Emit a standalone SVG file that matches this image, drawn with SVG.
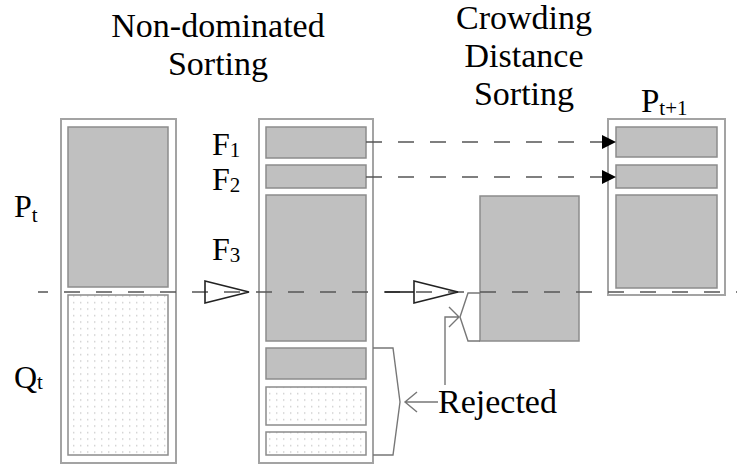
<svg xmlns="http://www.w3.org/2000/svg" width="737" height="465" viewBox="0 0 737 465">
  <defs>
    <pattern id="dots" width="7" height="6.5" patternUnits="userSpaceOnUse">
      <rect x="3" y="3" width="1.4" height="1.2" fill="#c4c4c4"/>
    </pattern>
    <marker id="solidHead" viewBox="0 0 14 14" refX="14" refY="7" markerWidth="14" markerHeight="14" markerUnits="userSpaceOnUse" orient="auto">
      <path d="M0,0 L14,7 L0,14 Z" fill="#000"/>
    </marker>
  </defs>
  <style>
    .outer { fill: #fff; stroke: #a3a3a3; stroke-width: 2; }
    .block { fill: #c0c0c0; stroke: #8c8c8c; stroke-width: 1.5; }
    .dotted { fill: url(#dots); stroke: #8c8c8c; stroke-width: 1.5; }
    .dash { fill: none; stroke: #555; stroke-width: 1.3; stroke-dasharray: 16 16; }
    .flow { fill: none; stroke: #222; stroke-width: 1.6; }
    .brace { fill: none; stroke: #777; stroke-width: 1.4; }
    .title { font-size: 34px; text-anchor: middle; }
    .big { font-size: 32px; }
    .sub { font-size: 21px; }
  </style>

  <g font-family="'Liberation Serif', 'Times New Roman', 'DejaVu Serif', serif" fill="#000">
    <!-- column headings -->
    <g id="heading-nds">
      <text class="title" x="218" y="37">Non-dominated</text>
      <text class="title" x="218" y="75">Sorting</text>
    </g>
    <g id="heading-cds">
      <text class="title" x="524" y="29">Crowding</text>
      <text class="title" x="524" y="67">Distance</text>
      <text class="title" x="524" y="105">Sorting</text>
    </g>
  </g>

  <!-- combined population R_t = P_t + Q_t -->
  <g id="population-r">
    <rect class="outer" x="61" y="119" width="115" height="344"/>
    <rect class="block" x="68" y="127" width="100" height="160"/>
    <rect class="dotted" x="68" y="295" width="100" height="160"/>
    <text class="big" font-family="'Liberation Serif', 'Times New Roman', serif" x="14" y="217">P<tspan class="sub" dy="5">t</tspan></text>
    <text class="big" font-family="'Liberation Serif', 'Times New Roman', serif" x="14" y="388">Q<tspan class="sub" dy="1">t</tspan></text>
  </g>

  <!-- fronts after non-dominated sorting -->
  <g id="fronts">
    <rect class="outer" x="259" y="119" width="114" height="344"/>
    <rect class="block" x="266" y="127" width="100" height="31"/>
    <rect class="block" x="266" y="165" width="100" height="23"/>
    <rect class="block" x="266" y="195" width="100" height="146"/>
    <rect class="block" x="266" y="348" width="100" height="31"/>
    <rect class="dotted" x="266" y="387" width="100" height="38"/>
    <rect class="dotted" x="266" y="432" width="100" height="23"/>
    <text class="big" font-family="'Liberation Serif', 'Times New Roman', serif" x="212" y="155">F<tspan class="sub" dy="2">1</tspan></text>
    <text class="big" font-family="'Liberation Serif', 'Times New Roman', serif" x="212" y="190">F<tspan class="sub" dy="2">2</tspan></text>
    <text class="big" font-family="'Liberation Serif', 'Times New Roman', serif" x="212" y="260">F<tspan class="sub" dy="2">3</tspan></text>
  </g>

  <!-- front F3 sorted by crowding distance -->
  <g id="crowding">
    <rect class="block" x="480" y="196" width="99" height="145"/>
  </g>

  <!-- next population P_t+1 -->
  <g id="population-next">
    <rect class="outer" x="608" y="119" width="117" height="176"/>
    <rect class="block" x="616" y="127" width="101" height="30"/>
    <rect class="block" x="616" y="165" width="101" height="23"/>
    <rect class="block" x="616" y="195" width="101" height="93"/>
    <text font-family="'Liberation Serif', 'Times New Roman', serif" font-size="33" x="641" y="112">P<tspan class="sub" dy="3">t+1</tspan></text>
  </g>

  <g id="rejected-label">
    <text font-family="'Liberation Serif', 'Times New Roman', serif" x="438" y="413" font-size="34">Rejected</text>
  </g>

  <!-- connectors -->
  <g id="connectors">
    <!-- population size cut line -->
    <line class="dash" x1="38" y1="292" x2="737" y2="292" stroke-dashoffset="6"/>
    <line class="flow" x1="385" y1="292" x2="414" y2="292"/>
    <polygon class="flow" points="205,281 249,292 205,303"/>
    <polygon class="flow" points="414,281 458,292 414,303"/>

    <!-- F1 and F2 copied into P_t+1 -->
    <line class="dash" x1="366" y1="142" x2="616" y2="142" marker-end="url(#solidHead)"/>
    <line class="dash" x1="366" y1="177" x2="616" y2="177" marker-end="url(#solidHead)"/>

    <!-- brace around the cut-off part of F3 -->
    <path class="brace" d="M480,293 L468,293 L460,317 L468,341 L480,341"/>
    <path class="brace" d="M445,385 L445,317 L459,317 M449,307 L459,317 L449,327"/>

    <!-- brace around rejected fronts -->
    <path class="brace" d="M373,348 L393,348 L400,402 L393,455 L373,455"/>
    <path class="brace" d="M438,402 L405,402 M417,392 L405,402 L417,412"/>
  </g>
</svg>
